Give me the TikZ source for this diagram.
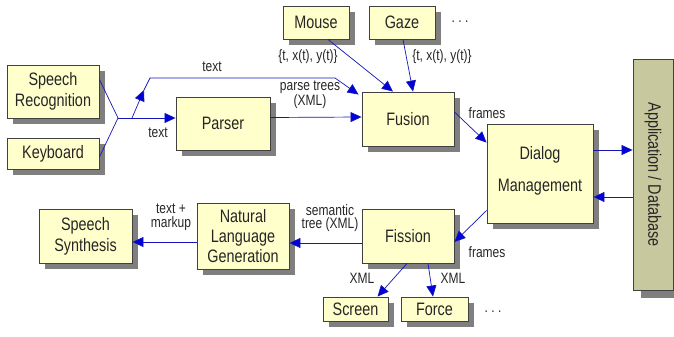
\documentclass[tikz,border=0pt]{standalone}
\usepackage{fontspec}
\setmainfont[FakeStretch=0.8]{Liberation Sans}
\usetikzlibrary{arrows.meta,shadows,calc}
\definecolor{boxfill}{HTML}{FFFFCC}
\definecolor{appfill}{HTML}{C8C89E}
\definecolor{shadowgray}{HTML}{7F7F7F}
\definecolor{arrowblue}{HTML}{1515B8}
\begin{document}
\begin{tikzpicture}[x=1pt,y=-1pt,
  box/.style={draw=black!75, line width=0.9pt, fill=boxfill, inner sep=0pt, align=center,
    font=\fontsize{18}{21}\selectfont, text=black!85,
    drop shadow={shadow xshift=6pt, shadow yshift=-6pt, fill=shadowgray, opacity=1}},
  lbl/.style={font=\fontsize{15}{13.5}\selectfont, align=center, inner sep=0pt, text=black!85},
  conn/.style={draw=arrowblue, line width=0.7pt},
  arr/.style={conn, -{Triangle[length=11pt,width=10pt,fill=blue!85!black]}},
]
\useasboundingbox (0,0) rectangle (674,337);

% nodes
\node[box, minimum width=92pt, minimum height=53pt] (sr) at (53,91.5) {Speech\\Recognition};
\node[box, minimum width=92pt, minimum height=31pt] (kb) at (53,153.5) {Keyboard};
\node[box, minimum width=94pt, minimum height=53pt] (parser) at (223,123.5) {Parser};
\node[box, minimum width=92pt, minimum height=54pt] (fusion) at (408,119) {Fusion};
\node[box, minimum width=66pt, minimum height=33pt] (mouse) at (316,22.5) {Mouse};
\node[box, minimum width=66pt, minimum height=33pt] (gaze) at (402,22.5) {Gaze};
\node[box, minimum width=106pt, minimum height=99pt, font=\fontsize{18}{32}\selectfont] (dialog) at (540,173.5) {Dialog\\Management\\[-22pt]\mbox{}};
\node[box, minimum width=92pt, minimum height=54pt] (fission) at (408,236) {Fission};
\node[box, minimum width=92pt, minimum height=66pt, font=\fontsize{18}{20}\selectfont] (nlg) at (243,236) {Natural\\Language\\Generation};
\node[box, minimum width=93pt, minimum height=54pt] (ss) at (85.5,236) {Speech\\Synthesis};
\node[box, minimum width=65pt, minimum height=24pt] (screen) at (355.5,309) {Screen};
\node[box, minimum width=67pt, minimum height=24pt] (force) at (434.5,309) {Force};

% application / database
\fill[shadowgray] (641,67) rectangle (681,298);
\node[draw=black!75, line width=0.9pt, fill=appfill, minimum width=40pt, minimum height=231pt, inner sep=0pt] (app) at (653,174.5) {};
\node[rotate=-90, font=\fontsize{18}{21}\selectfont, text=black!85] (apptext) at (app.center) {Application / Database};

% dots
\node[lbl] (dots1) at (460,22) {.\ .\ .};
\node[lbl] (dots2) at (493,312) {.\ .\ .};

% input junction
\coordinate (j) at (118,118);
\coordinate (b) at (132,118);
\coordinate (bm) at (144,90);
\coordinate (bt) at (150,78);
\coordinate (bc) at (335,78);
\draw[conn] ($(sr.east)+(0,-12)$) -- (j);
\draw[conn] ($(kb.east)+(0,3.5)$) -- (j);
\draw[arr] (j) -- (j -| parser.west);
\draw[arr] (b) -- (bm);
\draw[arr] (bm) -- (bt) -- (bc) -- ($(fusion.north west)+(-3,3)$);

% other connectors
\draw[arr] ($(parser.east)+(0,-6)$) -- ($(fusion.west)+(0,-2)$);
\draw[arr] ($(mouse.south)+(12,0)$) -- ($(fusion.north)+(-15,0)$);
\draw[arr] ($(gaze.south)+(1,0)$) -- ($(fusion.north)+(5,0)$);
\draw[arr] ($(fusion.east)+(0,-7)$) -- ($(dialog.north west)+(0,19)$);
\draw[arr] ($(dialog.east)+(0,-23.5)$) -- ($(app.west)+(0,-24.5)$);
\draw[arr] ($(app.west)+(0,22.5)$) -- ($(dialog.east)+(0,23.5)$);
\draw[arr] ($(dialog.south west)+(0,-13)$) -- ($(fission.east)+(0,6)$);
\draw[arr] ($(fission.west)+(0,7)$) -- ($(nlg.east)+(0,7)$);
\draw[arr] ($(nlg.west)+(0,6)$) -- ($(ss.east)+(0,6)$);
\draw[arr] ($(fission.south)+(-1,0)$) -- ($(screen.north)+(22,0)$);
\draw[arr] ($(fission.south)+(20,0)$) -- ($(force.north)+(-1.5,0)$);

% labels
\node[lbl] (l1) at (212,67) {text};
\node[lbl] (l2) at (158,133) {text};
\node[lbl] (l3) at (310,95) {parse trees\\(XML)};
\node[lbl] (l4) at (308,57) {\{t, x(t), y(t)\}};
\node[lbl] (l5) at (442,57) {\{t, x(t), y(t)\}};
\node[lbl] (l6) at (487,113) {frames};
\node[lbl] (l7) at (487,252) {frames};
\node[lbl] (l8) at (330,218) {semantic\\tree (XML)};
\node[lbl] (l9) at (171,217) {text +\\markup};
\node[lbl] (l10) at (362,278) {XML};
\node[lbl] (l11) at (453,278) {XML};
\end{tikzpicture}
\end{document}
